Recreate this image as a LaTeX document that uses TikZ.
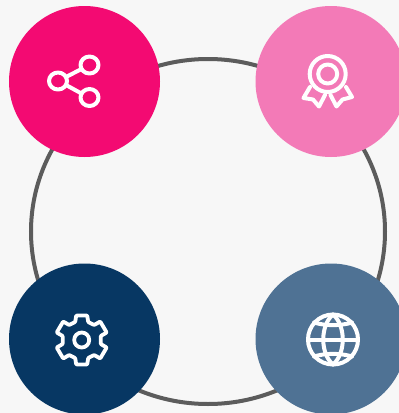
\documentclass[tikz,border=0pt]{standalone}
\definecolor{bgc}{HTML}{F7F7F7}
\definecolor{ringc}{HTML}{5C5C5C}
\definecolor{cpink}{HTML}{F30A72}
\definecolor{clight}{HTML}{F37AB7}
\definecolor{cnavy}{HTML}{073763}
\definecolor{csteel}{HTML}{4F7294}
\tikzset{
  disc/.style={circle,fill=#1,draw=none,minimum size=151pt,inner sep=0pt},
  icon/.style={draw=white,line width=4pt,line join=round,line cap=round},
}
\begin{document}
\begin{tikzpicture}[x=1pt,y=-1pt]
\useasboundingbox[fill=bgc] (0,0) rectangle (399,413);
\draw[draw=ringc,line width=4pt] (208,231.5) ellipse (177 and 172.5);
\node[disc=cpink] (a) at (84.5,81.5) {};
\node[disc=clight] (b) at (331,81.5) {};
\node[disc=cnavy] (c) at (84.5,339) {};
\node[disc=csteel] (d) at (331,339) {};
% share
\begin{scope}[icon]
\draw (89.5,65) ellipse (9 and 8.5);
\draw (58,81) ellipse (9 and 8.5);
\draw (89.5,97.5) ellipse (9 and 8.5);
\draw (66,77) -- (81.5,69);
\draw (66,85) -- (81.5,93.5);
\end{scope}
% ribbon
\begin{scope}[icon]
\draw (327.7,74) circle (18);
\draw (327.7,74) circle (9.5);
\draw (310,87) -- (303.5,98) -- (313,99.5) -- (319,106.5) -- (325,95);
\draw (346,87) -- (352,97) -- (342.5,99.5) -- (336.5,106.5) -- (330.5,95);
\end{scope}
% gear
\begin{scope}[icon,line width=3.8pt,shift={(81.7,340)}]
\draw (0,0) circle (7.5);
\draw[rounded corners=0.8pt] (-5.5,-24.5) -- (5.5,-24.5) -- (6.5,-18) -- (12.5,-15)
 -- (18.5,-18.5) -- (25,-7.5) -- (19,-4) -- (19,4) -- (25,7.5) -- (18.5,18.5) -- (12.5,15)
 -- (6.5,18) -- (5.5,24.5) -- (-5.5,24.5) -- (-6.5,18) -- (-12.5,15) -- (-18.5,18.5) -- (-25,7.5)
 -- (-19,4) -- (-19,-4) -- (-25,-7.5) -- (-18.5,-18.5) -- (-12.5,-15) -- (-6.5,-18) -- cycle;
\end{scope}
% globe
\begin{scope}[icon,shift={(333,339.5)}]
\draw (0,0) circle (25);
\draw (0,-25) .. controls (-13,-14) and (-13,14) .. (0,25);
\draw (0,-25) .. controls (13,-14) and (13,14) .. (0,25);
\draw (-25,0) -- (25,0);
\draw (-19,-17) .. controls (-8,-13.5) and (8,-13.5) .. (19,-17);
\draw (-19,17) .. controls (-8,13.5) and (8,13.5) .. (19,17);
\end{scope}
\end{tikzpicture}
\end{document}
